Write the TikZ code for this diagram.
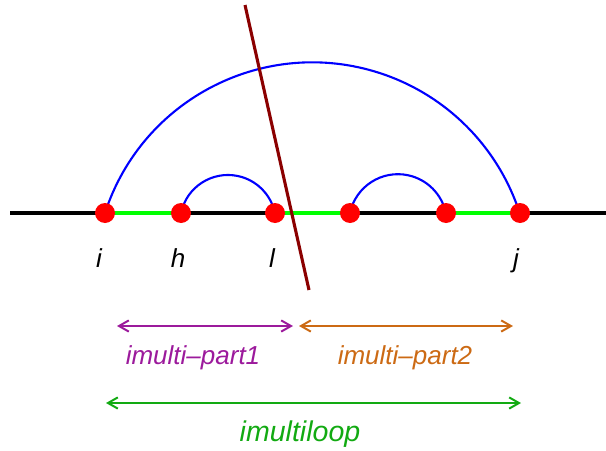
\documentclass[tikz,border=0pt]{standalone}
\usepackage{fontspec}
\setmainfont{Liberation Sans}
\usepackage{tikz}
\usetikzlibrary{calc, arrows.meta}
\usepackage{xcolor}

\definecolor{darkred}{HTML}{8B0000}
\definecolor{lblpurple}{HTML}{9C1A9C}
\definecolor{lblorange}{HTML}{CC6A14}
\definecolor{lblgreen}{HTML}{12AA12}

\tikzset{
    lbl/.style={font=\fontsize{18.5}{20}\selectfont\itshape, inner sep=0pt, anchor=base},
    span/.style={line width=1.4pt, {Straight Barb[length=7pt,width=8pt]}-{Straight Barb[length=7pt,width=8pt]}}
}

\begin{document}
\begin{tikzpicture}[x=0.025cm, y=0.025cm]
    \useasboundingbox (0,0) rectangle (606,450);

    % 1. Define the coordinates
    \coordinate (L) at (10,237);
    \coordinate (R) at (606,237);
    \coordinate (i) at (105,237);
    \coordinate (h) at (181,237);
    \coordinate (l) at (275,237);
    \coordinate (p) at (350,237);
    \coordinate (q) at (446,237);
    \coordinate (j) at (520,237);

    % the cutting line
    \coordinate (cutA) at (245,445);
    \coordinate (cutB) at (309,160);

    % 2. Draw the backbone, with the green stretches
    \draw[line width=2.8pt] (L) -- (R);
    \draw[line width=2.8pt, green] (i) -- (h);
    \draw[line width=2.8pt, green] (l) -- (p);
    \draw[line width=2.8pt, green] (q) -- (j);

    % 3. Draw the arcs
    \draw[line width=1.5pt, blue] (i) arc[start angle=162, end angle=18, radius=218];
    \draw[line width=1.5pt, blue] (h) arc[start angle=168, end angle=12, radius=48];
    \draw[line width=1.5pt, blue] (p) arc[start angle=168, end angle=12, radius=49];

    % 4. Draw the cut
    \draw[line width=2.2pt, darkred] (cutA) -- (cutB);

    % 5. Plot the points and label them
    \foreach \pt in {i,h,l,p,q,j}
        \fill[red] (\pt) circle (10);
    \node[lbl] (ti) at ($(i)+(-6,-54)$) {i};
    \node[lbl] (th) at ($(h)+(-3,-54)$) {h};
    \node[lbl] (tl) at ($(l)+(-3,-54)$) {l};
    \node[lbl] (tj) at ($(j)+(-4,-54)$) {j};

    % 6. Mark the spans below
    \coordinate (a1) at (117,124);
    \coordinate (a2) at (293,124);
    \coordinate (b1) at (299,124);
    \coordinate (b2) at (513,124);
    \coordinate (c1) at (106,47);
    \coordinate (c2) at (521,47);

    \draw[span, lblpurple] (a1) -- (a2);
    \draw[span, lblorange] (b1) -- (b2);
    \draw[span, lblgreen] (c1) -- (c2);

    \node[lbl, lblpurple] (part1) at (193,86) {imulti--part1};
    \node[lbl, lblorange] (part2) at (405,86) {imulti--part2};
    \node[lbl, lblgreen, font=\fontsize{20.3}{22}\selectfont\itshape] (loop) at (300,9) {imultiloop};

\end{tikzpicture}
\end{document}
